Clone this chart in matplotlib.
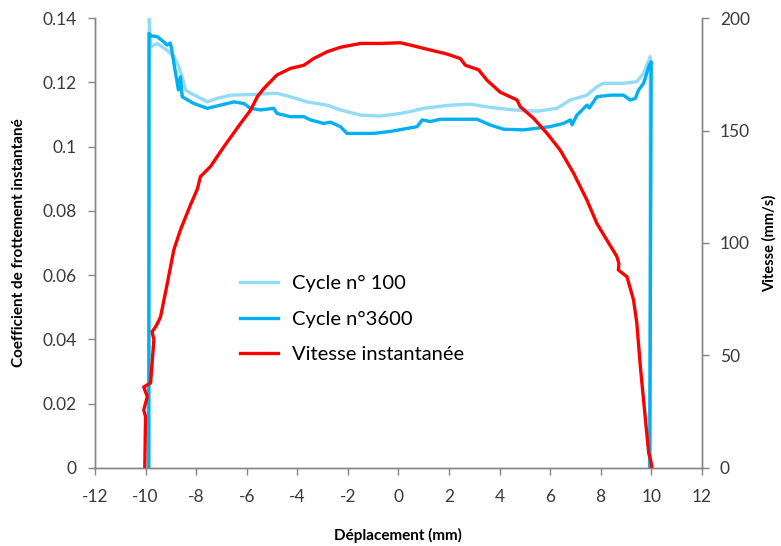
import matplotlib
matplotlib.use("Agg")
from matplotlib import pyplot as plt

# Cycle n° 100 (coefficient de frottement)
x_c100 = [-9.88, -9.87, -9.85, -9.8, -9.54, -9.15, -8.88, -8.69, -8.55, -8.42, -8.22, -7.69, -7.56,
          -7.17, -6.64, -5.85, -4.8, -4.27, -3.61, -2.82, -2.29, -1.5, -0.71, 0.08, 0.47, 1.0, 2.06,
          2.85, 3.64, 4.56, 5.48, 6.27, 6.8, 7.46, 7.85, 8.11, 8.9, 9.43, 9.7, 9.96, 9.95]
y_c100 = [0.0, 0.117, 0.140, 0.131, 0.1321, 0.130, 0.128, 0.1249, 0.1217, 0.1176, 0.1166, 0.1145, 0.1139,
          0.115, 0.116, 0.1162, 0.1166, 0.1155, 0.1139, 0.1129, 0.1114, 0.1098, 0.1095, 0.1103, 0.1109,
          0.1119, 0.1129, 0.1132, 0.1122, 0.1114, 0.111, 0.1119, 0.1145, 0.116, 0.1186, 0.1197, 0.1197,
          0.1202, 0.1228, 0.128, 0.0]

# Cycle n°3600
x_c3600 = [-9.87, -9.86, -9.8, -9.54, -9.28, -9.15, -9.02, -8.95, -8.88, -8.7, -8.62, -8.55, -8.09,
           -7.56, -7.03, -6.5, -6.11, -5.85, -5.45, -4.93, -4.8, -4.27, -3.74, -3.48, -2.95, -2.69,
           -2.29, -2.03, -0.98, -0.32, 0.74, 0.94, 1.26, 1.66, 2.32, 3.11, 3.64, 4.16, 4.95, 5.48, 6.0,
           6.53, 6.8, 6.87, 7.06, 7.46, 7.55, 7.85, 8.38, 8.9, 9.17, 9.37, 9.5, 9.7, 9.9, 10.0, 9.94]
y_c3600 = [0.0, 0.1352, 0.1345, 0.1342, 0.1326, 0.1316, 0.1322, 0.1295, 0.126, 0.1176, 0.1217, 0.1155,
           0.1134, 0.1119, 0.1129, 0.1139, 0.1134, 0.1119, 0.1114, 0.1119, 0.1103, 0.1093, 0.1093,
           0.1083, 0.1072, 0.1076, 0.1062, 0.1041, 0.1041, 0.1047, 0.1062, 0.1083, 0.1078, 0.1085,
           0.1085, 0.1085, 0.1067, 0.1054, 0.1052, 0.1057, 0.1062, 0.1072, 0.1083, 0.1068, 0.1098,
           0.1129, 0.112, 0.1155, 0.116, 0.116, 0.1145, 0.115, 0.1176, 0.1197, 0.1248, 0.1264, 0.0]

# Vitesse instantanée (mm/s)
x_vit = [-10.03, -10.0, -10.07, -9.93, -10.07, -9.8, -9.67, -9.74, -9.6, -9.54, -9.41, -9.14, -8.88,
         -8.62, -8.22, -7.95, -7.83, -7.43, -6.9, -6.25, -5.85, -5.58, -5.32, -4.8, -4.27, -3.74, -3.35,
         -2.82, -2.29, -1.5, -0.71, 0.08, 0.47, 1.0, 1.92, 2.45, 2.65, 3.17, 3.5, 4.03, 4.69, 4.82,
         5.35, 5.88, 6.4, 6.93, 7.46, 7.85, 8.1, 8.64, 8.72, 8.7, 9.04, 9.3, 9.43, 9.57, 9.76, 9.9,
         9.99, 10.03]
y_vit = [0, 22.8, 25.8, 31.7, 36, 37.8, 57, 60.6, 62.8, 64, 67, 82, 97,
         105.8, 117, 124, 129.5, 134, 142.8, 153, 159, 165, 168.7, 174.7, 177.6, 179, 182,
         185, 187, 188.7, 188.7, 189, 188, 186.5, 184, 182, 179, 177, 172.4, 167, 163.6, 160.6,
         155.4, 148.7, 141.3, 131, 119, 108.7, 104, 94, 91, 88, 85, 74.7, 64.4, 45, 22.8, 6.6,
         2.8, 0]

plt.rcParams['font.family'] = ['Lato', 'DejaVu Sans']
plt.rcParams['axes.unicode_minus'] = False
gris = '#868686'

fig = plt.figure(figsize=(7.81, 5.46), dpi=100)
ax = fig.add_axes([0.1216, 0.1429, 0.777, 0.8241])
ax2 = ax.twinx()

l1, = ax.plot(x_c100, y_c100, color='#93dcf8', lw=2.4, label='Cycle n° 100')
l2, = ax.plot(x_c3600, y_c3600, color='#00b0f0', lw=2.4, label='Cycle n°3600')
l3, = ax2.plot(x_vit, y_vit, color='#ff0000', lw=2.4, label='Vitesse instantanée')

ax.set_xlim(-12, 12)
ax.set_ylim(0, 0.14)
ax2.set_ylim(0, 200)
ax.set_xticks(range(-12, 13, 2))
ax.set_yticks([0, 0.02, 0.04, 0.06, 0.08, 0.1, 0.12, 0.14])
ax.set_yticklabels(['0', '0.02', '0.04', '0.06', '0.08', '0.1', '0.12', '0.14'])
ax2.set_yticks([0, 50, 100, 150, 200])

for a in (ax, ax2):
    a.spines['top'].set_visible(False)
    for s in ('left', 'right', 'bottom'):
        a.spines[s].set_color(gris)
        a.spines[s].set_linewidth(1.0)
    a.tick_params(colors=gris, labelcolor='#3a3a3a', labelsize=12.5, length=5, width=1.0)
ax.tick_params(axis='x', pad=10)
ax.tick_params(axis='y', pad=8)
ax2.tick_params(axis='y', pad=8)

ax.set_xlabel('Déplacement (mm)', fontsize=11, fontweight='bold', labelpad=17)
ax.set_ylabel('Coefficient de frottement instantané', fontsize=11, fontweight='bold', labelpad=12)
ax2.set_ylabel('Vitesse (mm/s)', fontsize=10.5, fontweight='bold', labelpad=9)

ax2.legend(handles=[l1, l2, l3], loc='center left', bbox_to_anchor=(0.239, 0.331),
           frameon=False, fontsize=14.5, handlelength=1.9, handletextpad=0.7,
           labelspacing=0.9, borderpad=0, borderaxespad=0)

fig.savefig('out.png', dpi=100)
